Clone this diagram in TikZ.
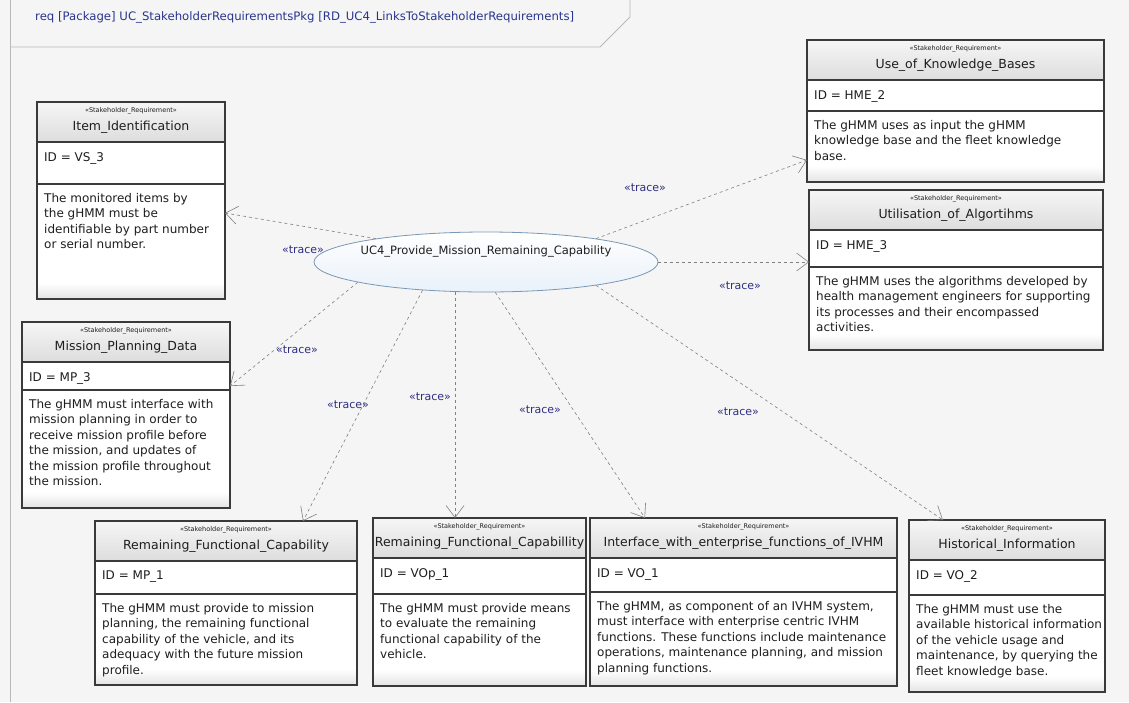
\documentclass[tikz,border=0pt]{standalone}
\usepackage{fontspec}
\setmainfont{DejaVu Sans}
\usepackage{tikz}
\usetikzlibrary{arrows.meta, positioning, calc, shapes.geometric}
\definecolor{canvasgray}{HTML}{F5F5F5}
\definecolor{boxline}{HTML}{3A3A3A}
\definecolor{hdrtop}{HTML}{F6F6F6}
\definecolor{hdrbot}{HTML}{DDDDDD}
\definecolor{tracenavy}{HTML}{2E2E82}
\definecolor{frameblue}{HTML}{28358F}
\definecolor{ucedge}{HTML}{7C97B5}
\definecolor{ucfill}{HTML}{E9F1FA}
\definecolor{linkgray}{HTML}{808080}
\definecolor{textdark}{HTML}{1E1E1E}

\tikzset{
  reqnode/.style={rectangle, inner sep=0pt, outer sep=0pt, anchor=north west},
  stereo/.style={font=\fontsize{6.5}{7}\selectfont, text=textdark},
  reqtitle/.style={font=\fontsize{12.5}{14}\selectfont, text=textdark},
  reqid/.style={font=\fontsize{12}{14}\selectfont, text=textdark, anchor=west, inner sep=0pt},
  reqbody/.style={font=\fontsize{12}{15.5}\selectfont, text=textdark, anchor=north west, align=left, inner sep=0pt},
  trace/.style={dash pattern=on 3pt off 3pt, line width=0.6pt, linkgray, -{Straight Barb[length=12pt, width=18pt]}},
  tracelabel/.style={font=\fontsize{11}{12}\selectfont, text=tracenavy, inner sep=1pt}
}

% requirement box: name, top left x, y, width, height, ID compartment, title, ID, text
\newcommand{\reqbox}[9]{%
  \node[reqnode, minimum width=#4pt, minimum height=#5pt] (#1) at (#2,#3) {};
  \fill[white] (#1.north west) rectangle (#1.south east);
  \shade[top color=hdrtop, bottom color=hdrbot] (#1.north west) rectangle ($(#1.north east)+(0,40)$);
  \shade[top color=white, bottom color=hdrbot!80] ($(#1.south west)+(0,-16)$) rectangle (#1.south east);
  \draw[boxline, line width=1.2pt] ($(#1.north west)+(0,40)$) -- ($(#1.north east)+(0,40)$);
  \draw[boxline, line width=1.2pt] ($(#1.north west)+(0,{40+#6})$) -- ($(#1.north east)+(0,{40+#6})$);
  \draw[boxline, line width=1.2pt] (#1.north west) rectangle (#1.south east);
  \node[stereo] at ($(#1.north)+(0,9)$) {«Stakeholder\_Requirement»};
  \node[reqtitle] at ($(#1.north)+(0,25)$) {#7};
  \node[reqid] at ($(#1.north west)+(7,56)$) {ID = #8};
  \node[reqbody] at ($(#1.north west)+(7,{49+#6})$) {#9};
}

\begin{document}
\begin{tikzpicture}[x=1pt, y=-1pt]
  % canvas
  \fill[canvasgray] (0,0) rectangle (1129,702);
  \useasboundingbox (0,0) rectangle (1129,702);

  % diagram frame
  \draw[gray!55, line width=0.8pt] (10,0) -- (10,702);
  \draw[gray!55, line width=0.8pt] (10,47) -- (600,47) -- (630,17) -- (630,0);
  \node[anchor=west, font=\fontsize{11.7}{14}\selectfont, text=frameblue, inner sep=0pt] (title) at (35,17)
    {req [Package] UC\_StakeholderRequirementsPkg [RD\_UC4\_LinksToStakeholderRequirements]};

  % requirements
  \reqbox{item}{37}{102}{188}{197}{42}{Item\_Identification}{VS\_3}%
    {The monitored items by\\the gHMM must be\\identifiable by part number\\or serial number.}
  \reqbox{kbase}{807}{40}{297}{142}{31}{Use\_of\_Knowledge\_Bases}{HME\_2}%
    {The gHMM uses as input the gHMM\\knowledge base and the fleet knowledge\\base.}
  \reqbox{algo}{809}{190}{294}{160}{37}{Utilisation\_of\_Algortihms}{HME\_3}%
    {The gHMM uses the algorithms developed by\\health management engineers for supporting\\its processes and their encompassed\\activities.}
  \reqbox{mplan}{22}{322}{208}{186}{28}{Mission\_Planning\_Data}{MP\_3}%
    {The gHMM must interface with\\mission planning in order to\\receive mission profile before\\the mission, and updates of\\the mission profile throughout\\the mission.}
  \reqbox{rfcmp}{95}{521}{262}{164}{33}{Remaining\_Functional\_Capability}{MP\_1}%
    {The gHMM must provide to mission\\planning, the remaining functional\\capability of the vehicle, and its\\adequacy with the future mission\\profile.}
  \reqbox{rfcvo}{373}{518}{213}{168}{36}{Remaining\_Functional\_Capabillity}{VOp\_1}%
    {The gHMM must provide means\\to evaluate the remaining\\functional capability of the\\vehicle.}
  \reqbox{ivhm}{590}{518}{307}{168}{34}{Interface\_with\_enterprise\_functions\_of\_IVHM}{VO\_1}%
    {The gHMM, as component of an IVHM system,\\must interface with enterprise centric IVHM\\functions. These functions include maintenance\\operations, maintenance planning, and mission\\planning functions.}
  \reqbox{hist}{909}{520}{196}{172}{35}{Historical\_Information}{VO\_2}%
    {The gHMM must use the\\available historical information\\of the vehicle usage and\\maintenance, by querying the\\fleet knowledge base.}

  % use case
  \node[ellipse, draw=ucedge, line width=0.8pt, top color=white, bottom color=ucfill,
        minimum width=344pt, minimum height=60pt, inner sep=0pt] (uc) at (486,262) {};
  \node[font=\fontsize{11.5}{14}\selectfont, text=textdark] (ucname) at (486,251)
    {UC4\_Provide\_Mission\_Remaining\_Capability};

  % trace links
  \draw[trace] (uc.168) -- (item.east |- 0,213);
  \draw[trace] (uc.12) -- (kbase.west |- 0,160);
  \draw[trace] (uc.east) -- (algo.west |- uc.east);
  \draw[trace] (uc.189) -- (mplan.east |- 0,386);
  \draw[trace] (uc.204) -- (303,521);
  \draw[trace] (uc.224) -- (uc.224 |- rfcvo.north);
  \draw[trace] (uc.287) -- (645,518);
  \draw[trace] (uc.348) -- (943,520);

  \node[tracelabel] (t1) at (303,250) {«trace»};
  \node[tracelabel] (t2) at (645,188) {«trace»};
  \node[tracelabel] (t3) at (740,286) {«trace»};
  \node[tracelabel] (t4) at (297,350) {«trace»};
  \node[tracelabel] (t5) at (348,405) {«trace»};
  \node[tracelabel] (t6) at (430,397) {«trace»};
  \node[tracelabel] (t7) at (540,410) {«trace»};
  \node[tracelabel] (t8) at (738,412) {«trace»};
\end{tikzpicture}
\end{document}
